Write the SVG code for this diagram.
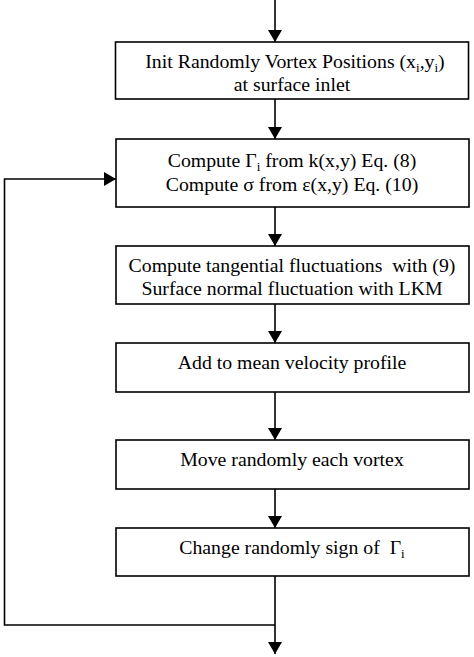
<svg xmlns="http://www.w3.org/2000/svg" width="474" height="657" viewBox="0 0 474 657">
<defs>
<marker id="ah" markerWidth="12" markerHeight="14" refX="12" refY="7" orient="auto" markerUnits="userSpaceOnUse">
<path d="M0,0 L12,7 L0,14 Z" fill="#000"/>
</marker>
<style>
.box{fill:#fff;stroke:#000;stroke-width:1.6}
.t{font-family:"Liberation Serif","Times New Roman",serif;font-size:19.8px;fill:#000;text-anchor:middle}
.c{fill:none;stroke:#000;stroke-width:1.6}
.s{font-size:13px}
</style>
</defs>
<rect width="474" height="657" fill="#fff"/>
<g id="connectors">
<line class="c" x1="275" y1="0" x2="275" y2="42" marker-end="url(#ah)"/>
<line class="c" x1="275" y1="99" x2="275" y2="139" marker-end="url(#ah)"/>
<line class="c" x1="275" y1="207" x2="275" y2="246" marker-end="url(#ah)"/>
<line class="c" x1="275" y1="304" x2="275" y2="343" marker-end="url(#ah)"/>
<line class="c" x1="275" y1="392" x2="275" y2="440" marker-end="url(#ah)"/>
<line class="c" x1="275" y1="489" x2="275" y2="528" marker-end="url(#ah)"/>
<line class="c" x1="275" y1="576" x2="275" y2="654" marker-end="url(#ah)"/>
<polyline class="c" points="275,625 4.5,625 4.5,179 116,179" marker-end="url(#ah)"/>
</g>
<g id="n1">
<rect class="box" x="115.5" y="42" width="353" height="57"/>
<text class="t" x="295" y="68">Init Randomly Vortex Positions (x<tspan class="s" dy="4">i</tspan><tspan dy="-4">,y</tspan><tspan class="s" dy="4">i</tspan><tspan dy="-4">)</tspan></text>
<text class="t" x="292" y="91">at surface inlet</text>
</g>
<g id="n2">
<rect class="box" x="116" y="139" width="353" height="68"/>
<text class="t" x="292" y="167">Compute Γ<tspan class="s" dy="4">i</tspan><tspan dy="-4"> from k(x,y) Eq. (8)</tspan></text>
<text class="t" x="292" y="191">Compute σ from ε(x,y) Eq. (10)</text>
</g>
<g id="n3">
<rect class="box" x="116" y="246" width="353" height="58"/>
<text class="t" x="292" y="272" xml:space="preserve">Compute tangential fluctuations  with (9)</text>
<text class="t" x="292" y="295">Surface normal fluctuation with LKM</text>
</g>
<g id="n4">
<rect class="box" x="116" y="343" width="353" height="49"/>
<text class="t" x="292" y="369">Add to mean velocity profile</text>
</g>
<g id="n5">
<rect class="box" x="116" y="440" width="353" height="49"/>
<text class="t" x="292" y="466">Move randomly each vortex</text>
</g>
<g id="n6">
<rect class="box" x="116" y="528" width="353" height="48"/>
<text class="t" x="292" y="554" xml:space="preserve">Change randomly sign of  Γ<tspan class="s" dy="4">i</tspan></text>
</g>
</svg>
